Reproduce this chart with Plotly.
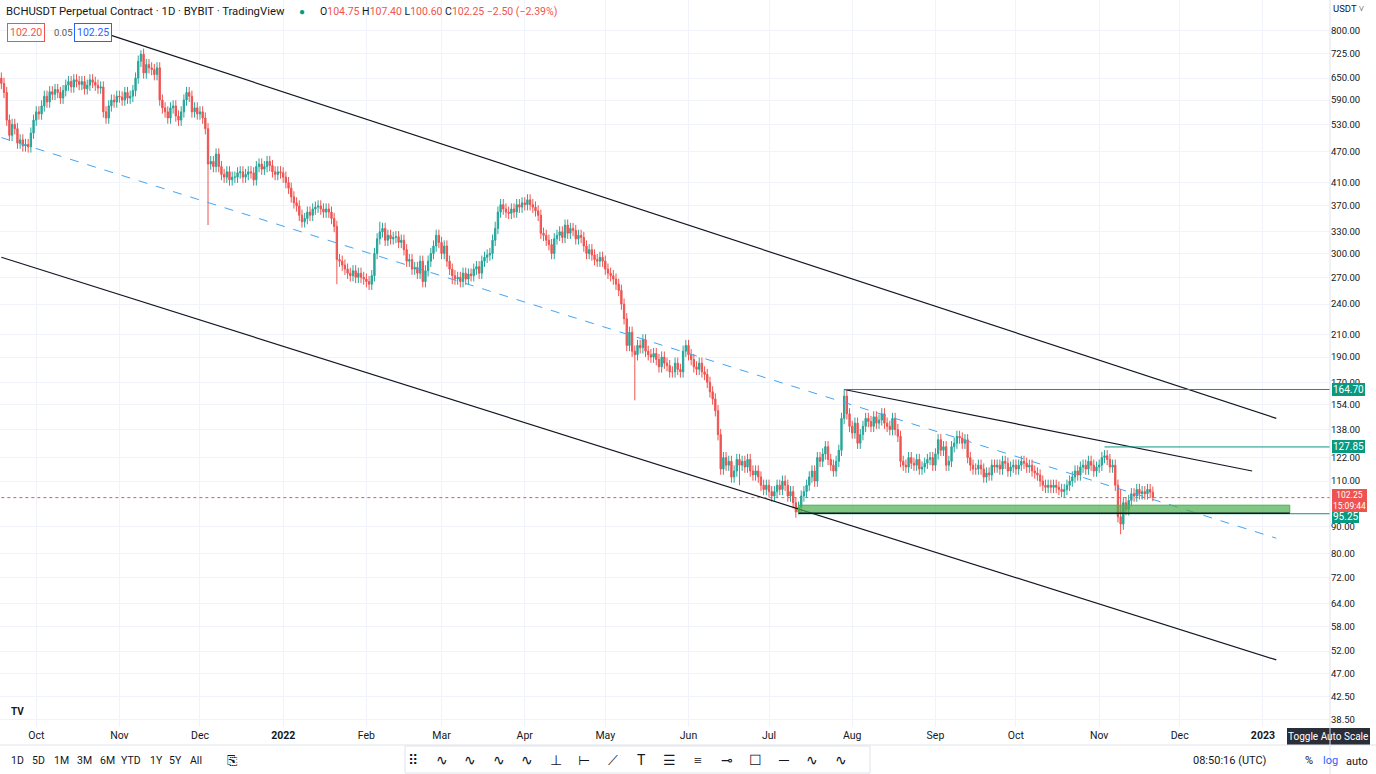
import plotly.graph_objects as go
import pandas as pd
import numpy as np

start_date = "2021-09-18"
closes = [
635, 610, 540, 505, 530, 520, 488,
495, 482, 485, 480, 510, 540, 560,
555, 575, 600, 585, 612, 605, 618,
610, 595, 615, 630, 640, 625, 645,
640, 632, 640, 620, 630, 645, 638,
630, 622, 625, 560, 545, 575, 590,
585, 600, 598, 590, 610, 595, 600,
615, 650, 700, 722, 665, 690, 680,
675, 660, 680, 590, 570, 560, 545,
570, 575, 550, 540, 560, 590, 610,
600, 560, 570, 555, 560, 545, 520,
445, 450, 440, 465, 440, 425, 420,
430, 415, 420, 420, 428, 430, 420,
425, 430, 428, 415, 440, 445, 435,
440, 450, 442, 430, 425, 430, 428,
420, 410, 400, 385, 375, 370, 355,
345, 350, 360, 355, 365, 368, 370,
365, 360, 365, 360, 350, 338, 292,
290, 285, 280, 275, 272, 278, 270,
275, 270, 268, 265, 262, 272, 300,
320, 330, 335, 318, 325, 320, 322,
323, 315, 318, 305, 290, 292, 280,
282, 275, 290, 265, 278, 290, 300,
310, 325, 315, 300, 310, 290, 280,
272, 268, 270, 265, 275, 268, 274,
272, 280, 283, 275, 290, 295, 298,
300, 318, 335, 360, 372, 365, 360,
358, 365, 360, 372, 368, 375, 372,
380, 372, 368, 362, 355, 328, 325,
318, 312, 300, 320, 325, 330, 322,
340, 328, 335, 332, 320, 325, 322,
310, 300, 305, 298, 292, 290, 295,
290, 280, 275, 272, 268, 262, 255,
240, 225, 200, 212, 195, 192, 200,
198, 205, 195, 192, 190, 193, 188,
182, 190, 185, 183, 178, 178, 185,
180, 178, 195, 200, 192, 188, 182,
180, 185, 178, 176, 170, 163, 158,
150, 135, 116, 122, 118, 120, 112,
115, 121, 118, 120, 117, 121, 115,
113, 115, 112, 108, 106, 108, 105,
103, 105, 108, 106, 110, 108, 103,
105, 100, 96, 98, 103, 105, 108,
112, 115, 110, 122, 120, 124, 128,
121, 118, 115, 120, 126, 145, 160,
148, 140, 136, 142, 130, 135, 140,
145, 143, 140, 146, 142, 144, 148,
142, 140, 138, 145, 138, 134, 120,
118, 117, 122, 119, 118, 121, 116,
117, 119, 121, 122, 118, 124, 132,
126, 128, 118, 120, 128, 130, 134,
133, 130, 132, 122, 118, 116, 116,
118, 116, 112, 114, 113, 118, 117,
118, 116, 120, 119, 115, 117, 118,
116, 118, 120, 119, 117, 118, 115,
114, 113, 110, 108, 107, 108, 107,
108, 107, 106, 105, 106, 108, 110,
112, 115, 113, 117, 118, 116, 120,
118, 115, 117, 118, 122, 123, 121,
117, 118, 108, 94, 91, 100, 97,
101, 104, 103, 106, 104, 105, 104,
106, 104.75, 102.25]
first_open = 650
# notable wicks: day index -> high / low
wick_high = {52: 735, 314: 164.7, 141: 345, 184: 345, 417: 106, 429: 107.4}
wick_low = {77: 340, 236: 157, 125: 262, 168: 262, 417: 87, 297: 95, 429: 100.6, 275: 108}

dates = pd.date_range(start_date, periods=len(closes), freq="D")
opens = [first_open] + closes[:-1]
highs, lows = [], []
for i, (o, c) in enumerate(zip(opens, closes)):
    highs.append(wick_high.get(i, max(o, c) * 1.025))
    lows.append(wick_low.get(i, min(o, c) * 0.975))

# drawings (date, price)
upper_ch = [("2021-10-23", 803), ("2023-01-06", 145)]
lower_ch = [("2021-09-18", 295), ("2023-01-06", 50)]
mid_ch = [("2021-09-18", 500), ("2023-01-06", 85.5)]
wedge = [("2022-07-29", 164.7), ("2022-12-28", 115)]
levels = [164.70, 127.85, 95.25]
level_start = ["2022-07-29", "2022-11-03", "2022-07-12"]
last_price = 102.25
zone = [("2022-07-12", 95.4), ("2023-01-11", 98.9)]

yticks = [800, 725, 650, 590, 530, 470, 410, 370, 330, 300, 270, 240, 210, 190, 170,
          154, 138, 122, 110, 90, 80, 72, 64, 58, 52, 47, 42.5, 38.5]
xtick_dates = ["2021-10-01", "2021-11-01", "2021-12-01", "2022-01-01", "2022-02-01", "2022-03-01",
               "2022-04-01", "2022-05-01", "2022-06-01", "2022-07-01", "2022-08-01", "2022-09-01",
               "2022-10-01", "2022-11-01", "2022-12-01", "2023-01-01"]
xtick_text = ["Oct", "Nov", "Dec", "<b>2022</b>", "Feb", "Mar", "Apr", "May", "Jun", "Jul", "Aug",
              "Sep", "Oct", "Nov", "Dec", "<b>2023</b>"]

UP, DN = "#26a69a", "#ef5350"
TEAL = "#089981"
fig = go.Figure()
fig.add_trace(go.Candlestick(x=dates, open=opens, high=highs, low=lows, close=closes,
                             increasing=dict(line=dict(color=UP, width=1), fillcolor=UP),
                             decreasing=dict(line=dict(color=DN, width=1), fillcolor=DN),
                             whiskerwidth=0, hoverinfo="skip", showlegend=False))

def seg(pts, color, width=1.2, dash="solid"):
    fig.add_trace(go.Scatter(x=[p[0] for p in pts], y=[p[1] for p in pts], mode="lines",
                             line=dict(color=color, width=width, dash=dash),
                             hoverinfo="skip", showlegend=False))

seg(upper_ch, "#131722")
seg(lower_ch, "#131722")
seg(mid_ch, "#42a5f5", 1, "dash")
seg(wedge, "#131722")
end_x = "2023-01-26"
for lv, s in zip(levels, level_start):
    seg([(s, lv), (end_x, lv)], TEAL, 1)
seg([(start_date, last_price), (end_x, last_price)], DN, 1, "dot")
fig.add_trace(go.Scatter(x=[zone[0][0], zone[1][0], zone[1][0], zone[0][0], zone[0][0]],
                         y=[zone[0][1], zone[0][1], zone[1][1], zone[1][1], zone[0][1]],
                         mode="lines", fill="toself", fillcolor="rgba(76,175,80,0.7)",
                         line=dict(color="#4caf50", width=1), hoverinfo="skip", showlegend=False))
seg([zone[0], (zone[1][0], zone[0][1])], "#131722", 1.5)

W, PH = 1330, 727
def px(x): return x / W
def py(y): return (PH - y) / PH

ann = []
shapes = []
def text(x, y, t, size=11, color="#131722", anchor="left", bg=None, border=None, xref="paper",
         yref="paper", pad=2):
    ann.append(dict(x=x, y=y, xref=xref, yref=yref, text=t, showarrow=False, xanchor=anchor,
                    yanchor="middle", font=dict(size=size, color=color, family="Roboto"),
                    bgcolor=bg, bordercolor=border, borderwidth=1 if border else 0, borderpad=pad))

text(px(4), py(12), "BCHUSDT Perpetual Contract · 1D · BYBIT · TradingView", 11.3)
text(px(302), py(12), "●", 10, TEAL, "center")
text(px(318), py(12),
     "O<span style='color:#ef5350'>104.75</span> H<span style='color:#ef5350'>107.40</span> "
     "L<span style='color:#ef5350'>100.60</span> C<span style='color:#ef5350'>102.25 −2.50 (−2.39%)</span>", 10.5)
text(px(7), py(32), "102.20", 10.5, DN, bg="white", border=DN)
text(px(52), py(32), "0.05", 9.5, "#555")
text(px(74), py(32), "102.25", 10.5, "#2962ff", bg="white", border="#2962ff")
text(px(1348), py(9), "USDT ˅", 9.5, "#131722", "center")

# axis badges
text(1.0015, np.log10(164.70), "164.70", 10, "white", bg=TEAL, yref="y", pad=1)
text(1.0015, np.log10(127.85), "127.85", 10, "white", bg=TEAL, yref="y", pad=1)
text(1.0015, np.log10(95.25) - 0.006, "95.25", 10, "white", bg=TEAL, yref="y", pad=1)
text(1.0015, np.log10(last_price) - 0.006, "102.25<br>15:09:44", 8.5, "white", bg=DN, yref="y", pad=1)

# bottom bar
for t, x in zip(["1D", "5D", "1M", "3M", "6M", "YTD", "1Y", "5Y", "All"],
                [17, 38, 61, 84, 107, 131, 156, 176, 196]):
    text(px(x), py(760), t, 10.5, "#131722", "center")
text(px(232), py(760), "⎘", 13, "#131722", "center")
text(px(1268), py(760), "08:50:16 (UTC)", 11, "#131722", "right")
text(px(1309), py(760), "%", 11, "#131722", "center")
text(px(1330), py(760), "log", 11, "#2962ff", "center")
text(px(1357), py(761), "auto", 11, "#131722", "center")
shapes.append(dict(type="rect", xref="paper", yref="paper", x0=px(1287), x1=px(1370), y0=py(745),
                   y1=py(728), fillcolor="#2a2e39", line=dict(width=0)))
text(px(1328), py(736.5), "Toggle Auto Scale", 10, "white", "center")
shapes.append(dict(type="rect", xref="paper", yref="paper", x0=px(405), x1=px(870), y0=py(773),
                   y1=py(746), fillcolor="white", line=dict(color="#e0e3eb", width=1)))
icons = ["⠿", "∿", "∿", "∿", "∿", "⊥", "⊢", "⟋", "T", "☰", "≡", "⊸", "☐", "─", "∿", "∿"]
for i, ic in enumerate(icons):
    text(px(413 + i * 28.5), py(760), ic, 14, "#131722", "center")
text(px(17), py(711), "<b>TV</b>", 10, "#131722", "center")
shapes.append(dict(type="line", xref="paper", yref="paper", x0=0, x1=1376 / W, y0=py(745), y1=py(745),
                   line=dict(color="#e0e3eb", width=1)))
shapes.append(dict(type="line", xref="paper", yref="paper", x0=1, x1=1, y0=py(774), y1=1,
                   line=dict(color="#e0e3eb", width=1)))

fig.update_layout(
    width=1376, height=774, margin=dict(l=0, r=46, t=0, b=47),
    paper_bgcolor="white", plot_bgcolor="white",
    font=dict(family="Roboto", color="#131722", size=10),
    annotations=ann, shapes=shapes,
    xaxis=dict(range=["2021-09-17 12:00", "2023-01-26"], rangeslider=dict(visible=False),
               tickvals=xtick_dates, ticktext=xtick_text, showgrid=True, gridcolor="#f0f3fa",
               tickfont=dict(size=10.5), ticks="", showline=False, zeroline=False),
    yaxis=dict(type="log", side="right", range=[np.log10(37.2), np.log10(917)],
               tickvals=yticks, ticktext=[f"{v:.2f}" for v in yticks], showgrid=True,
               gridcolor="#f0f3fa", tickfont=dict(size=9.5), ticks="", zeroline=False),
    hovermode=False,
)
fig.write_html("out.html", config={"displayModeBar": False})
with open("out.html", encoding="utf-8") as f:
    html = f.read()
html = html.replace("<head>", "<head><style>html,body{margin:0;padding:0;overflow:hidden}</style>", 1)
with open("out.html", "w", encoding="utf-8") as f:
    f.write(html)
